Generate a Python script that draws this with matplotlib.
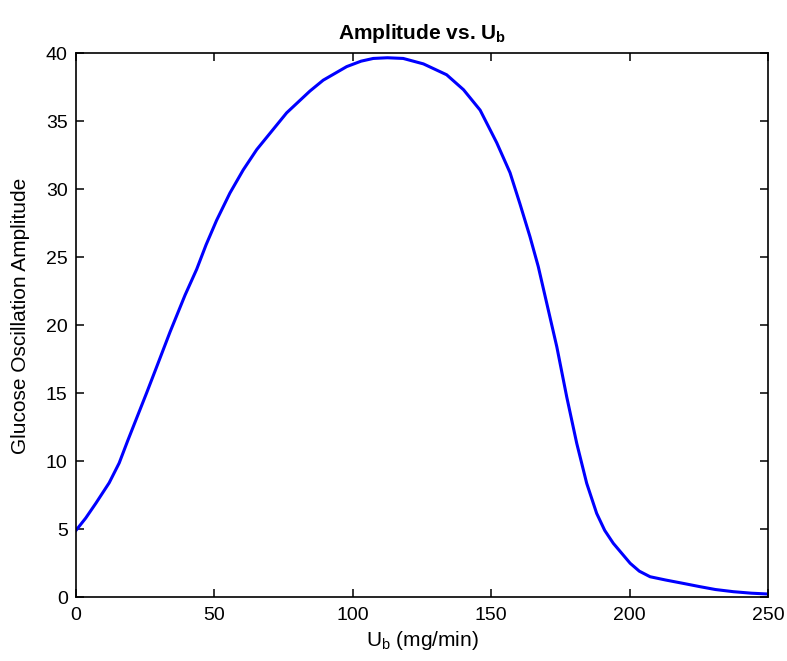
import matplotlib
matplotlib.use("Agg")
import matplotlib.pyplot as plt

# Data
ub = [0, 3.5, 7.2, 12.0, 15.6, 18.7, 22.0, 25.5, 29.1, 34.0, 39.4, 43.6, 47.0,
      50.8, 55.6, 60.4, 65.3, 70.1, 76.1, 84.5, 89.3, 97.8, 103.0, 107.4,
      112.5, 118.2, 125.5, 133.9, 140.0, 146.0, 152.0, 156.8, 160.4, 164.0,
      167.0, 169.5, 173.7, 177.3, 180.9, 184.5, 188.1, 191.0, 194.1, 200.2,
      203.5, 207.4, 213.0, 219.4, 225.4, 231.0, 237.5, 244.0, 250.0]
amp = [4.9, 5.8, 6.9, 8.4, 9.85, 11.5, 13.2, 15.0, 16.9, 19.5, 22.2, 24.1, 25.9,
       27.7, 29.7, 31.4, 32.9, 34.1, 35.6, 37.2, 38.0, 39.0, 39.4, 39.6,
       39.65, 39.6, 39.2, 38.4, 37.3, 35.8, 33.4, 31.2, 28.9, 26.5,
       24.3, 22.1, 18.4, 14.7, 11.3, 8.36, 6.15, 4.9, 3.95, 2.48,
       1.9, 1.49, 1.25, 1.0, 0.76, 0.55, 0.39, 0.28, 0.22]

xticks = [0, 50, 100, 150, 200, 250]
yticks = [0, 5, 10, 15, 20, 25, 30, 35, 40]

plt.rcParams['font.family'] = ['Liberation Sans', 'DejaVu Sans']
plt.rcParams['mathtext.fontset'] = 'custom'
plt.rcParams['mathtext.rm'] = 'Liberation Sans'
plt.rcParams['mathtext.it'] = 'Liberation Sans'
plt.rcParams['mathtext.bf'] = 'Liberation Sans:bold'

fig = plt.figure(figsize=(7.87, 6.61), dpi=100)
ax = fig.add_axes([76/787, 1 - 597/661, (768-76)/787, (597-53)/661])

ax.plot(ub, amp, color=(0, 0, 1), linewidth=2.2, solid_joinstyle='round')

ax.set_xlim(0, 250)
ax.set_ylim(0, 40)
ax.set_xticks(xticks)
ax.set_yticks(yticks)
ax.tick_params(direction='in', length=6, width=1.1, top=True, right=True,
               labelsize=14, colors='black', pad=7)
ax.tick_params(axis='y', pad=6)
for s in ax.spines.values():
    s.set_linewidth(1.2)
    s.set_color('black')

ax.set_title(r'Amplitude vs. U$_\mathbf{b}$', fontsize=15, fontweight='bold', pad=10)
ax.set_xlabel(r'U$_\mathrm{b}$ (mg/min)', fontsize=15, labelpad=4)
ax.set_ylabel('Glucose Oscillation Amplitude', fontsize=15)
ax.yaxis.set_label_coords(-0.067, 0.517)

fig.savefig('out.png', dpi=100, facecolor='white')
